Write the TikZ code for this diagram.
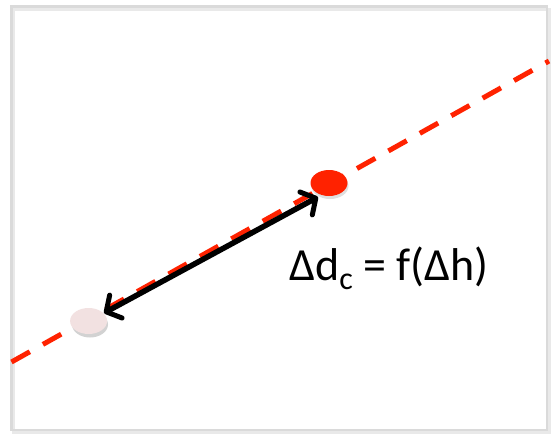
\documentclass[tikz,border=0pt]{standalone}
\usepackage{fontspec}
\setmainfont{Carlito}
\usetikzlibrary{arrows.meta,shapes.geometric}
\definecolor{dotred}{HTML}{FF2200}
\definecolor{dotpale}{HTML}{F2E1E1}
\definecolor{framegray}{HTML}{DADADA}
\tikzset{
  frame/.style={draw=framegray,line width=2.5pt},
  redline/.style={draw=dotred,line width=5pt,dash pattern=on 21pt off 15pt},
  dot/.style={ellipse,minimum width=37pt,minimum height=26pt,inner sep=0pt},
  barb/.tip={Straight Barb[length=11pt,width=26pt,line width=5pt,round]},
  dblarrow/.style={draw=black,line width=5.5pt,barb-barb},
  lbl/.style={font=\fontsize{46}{50}\selectfont,inner sep=0pt,anchor=base west}
}
\begin{document}
\begin{tikzpicture}[x=1pt,y=-1pt]
\useasboundingbox (0,0) rectangle (557,439);
\fill[white] (0,0) rectangle (557,439);
% frame with soft shadow
\draw[draw=framegray!60,line width=3pt] (13,9) rectangle (549,432);
\draw[frame] (11.5,6.5) rectangle (547,430);
% dashed line
\coordinate (l1) at (11.5,362);
\coordinate (l2) at (549,61);
\draw[redline] (l1) -- (l2);
% dots
\fill[gray,opacity=0.35] (90,324.5) ellipse (18pt and 13pt);
\node[dot,fill=dotpale] (pale) at (88.6,321) {};
\fill[gray,opacity=0.25] (330,186) ellipse (18.5pt and 13pt);
\node[dot,fill=dotred] (red) at (329,183) {};
% arrow
\coordinate (a1) at (104,313);
\coordinate (a2) at (318,197);
\draw[dblarrow] (a1) -- (a2);
% label
\node[lbl] (eq) at (289,280) {Δd\raisebox{-9pt}{\fontsize{32}{32}\selectfont c} = f(Δh)};
\end{tikzpicture}
\end{document}
